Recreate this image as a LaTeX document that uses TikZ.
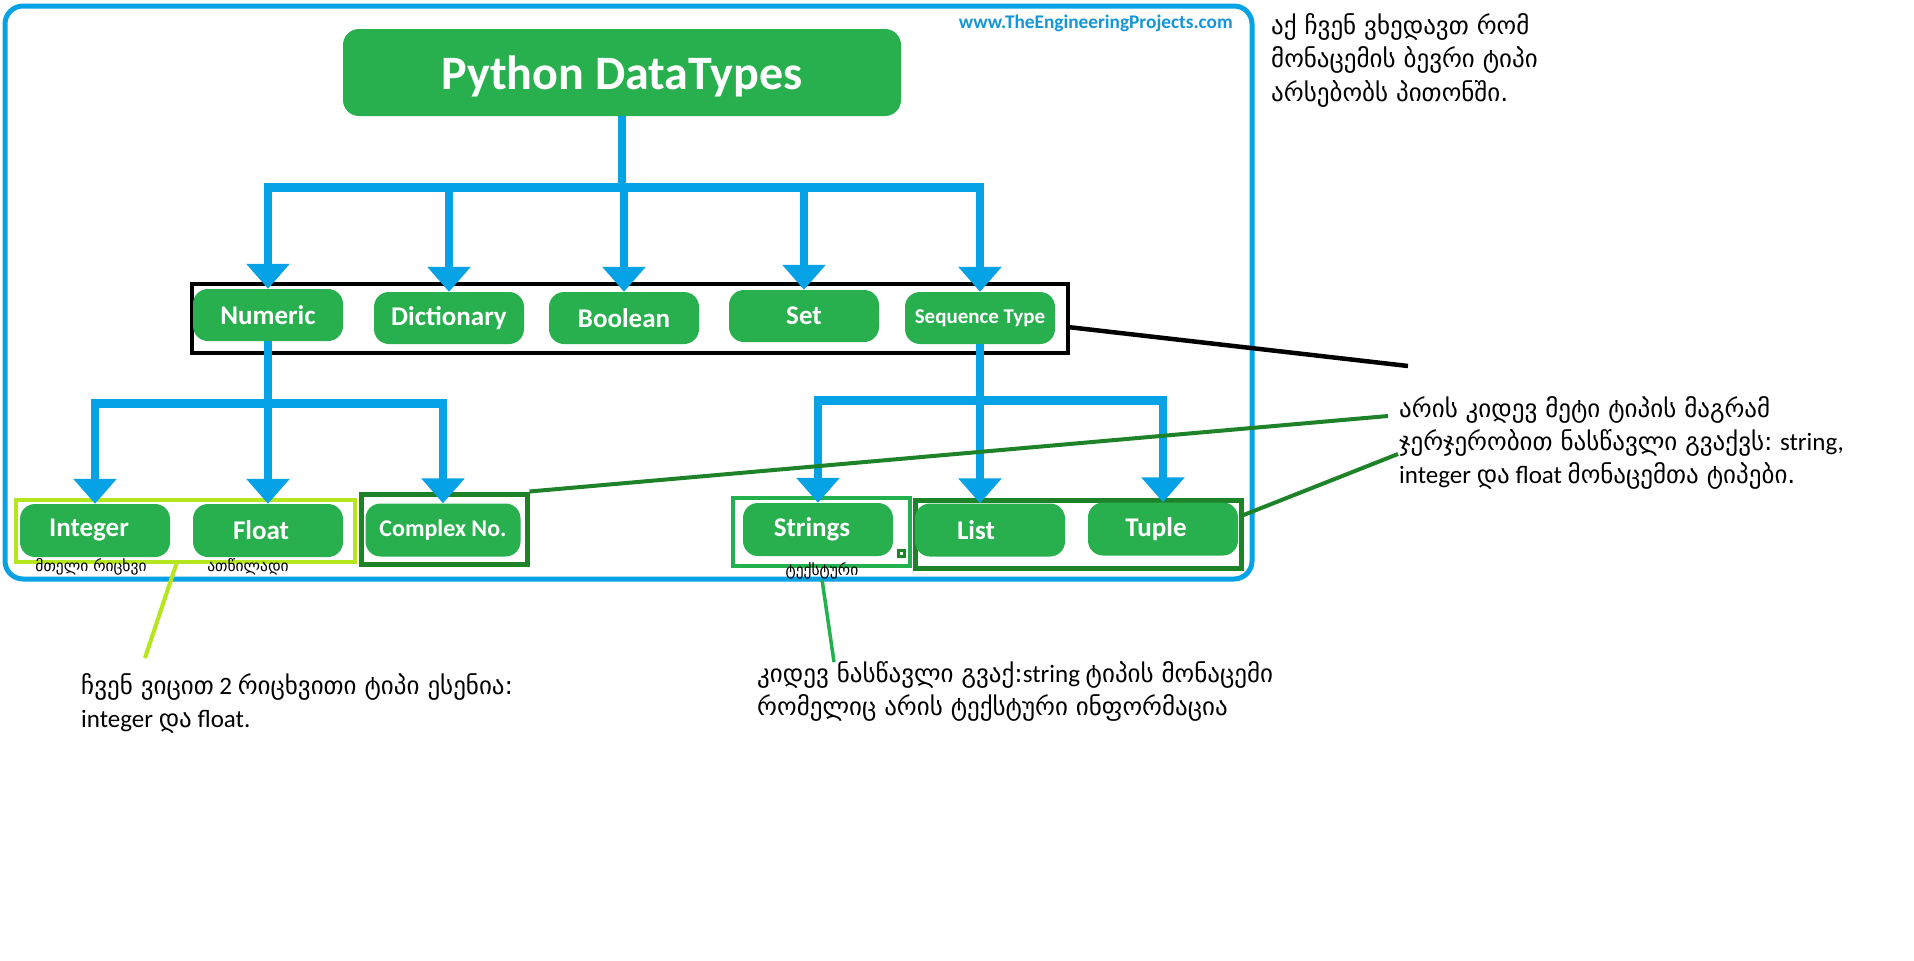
\documentclass[tikz,border=0pt]{standalone}
\usepackage{fontspec}
\setmainfont{Carlito}
\newfontfamily\ka{DejaVu Sans}
\usetikzlibrary{arrows.meta,calc}
\definecolor{ngreen}{RGB}{40,176,78}
\definecolor{tblue}{RGB}{6,162,230}
\definecolor{webblue}{RGB}{20,150,215}
\definecolor{limec}{RGB}{181,230,29}
\definecolor{greenc}{RGB}{34,177,76}
\definecolor{dkgreen}{RGB}{30,130,40}
\tikzset{
  dnode/.style={fill=ngreen, rounded corners=15pt, text=white, inner sep=0pt,
    font=\bfseries\fontsize{27pt}{30pt}\selectfont, minimum width=150pt, minimum height=52pt},
  grpbox/.style={inner sep=0pt, fill=none},
  hbar/.style={draw=tblue, line width=9pt},
  vline/.style={draw=tblue, line width=7.5pt},
  arr/.style={draw=tblue, line width=7.5pt, -{Triangle[width=42pt,length=25pt]}},
  note/.style={anchor=base west, inner sep=0pt, font=\fontsize{25pt}{33pt}\selectfont},
  capt/.style={inner sep=0pt, font=\ka\fontsize{15.5pt}{17pt}\selectfont},
  callout/.style={line width=4pt}
}
\begin{document}
\begin{tikzpicture}[x=1pt,y=-1pt]
\fill[white] (0,0) rectangle (1914,961);
\useasboundingbox (0,0) rectangle (1914,961);

% outer frame
\draw[tblue, line width=5pt, rounded corners=18pt] (5,6) rectangle (1252,579);

% website
\node[anchor=base east, inner sep=0pt, text=webblue, font=\bfseries\fontsize{19.3pt}{21pt}\selectfont] (web) at (1233,28) {www.TheEngineeringProjects.com};

% group boxes
\node[grpbox, draw=black, line width=4pt, minimum width=876pt, minimum height=69pt] (blk) at (630,318.5) {};
\node[grpbox, draw=limec, line width=4pt, minimum width=339pt, minimum height=62pt] (limebox) at (185.5,531) {};
\node[grpbox, draw=dkgreen, line width=5pt, minimum width=166pt, minimum height=70pt] (cbox) at (444,529) {};
\node[grpbox, draw=greenc, line width=4pt, minimum width=177pt, minimum height=68pt] (sbox) at (821.5,532) {};
\node[grpbox, draw=dkgreen, line width=5pt, minimum width=326pt, minimum height=68pt] (ltbox) at (1078,534) {};

% nodes
\node[dnode, minimum width=558pt, minimum height=87pt, rounded corners=16pt, text depth=0pt,
      font=\bfseries\fontsize{48pt}{52pt}\selectfont] (title) at (622,72.5) {Python DataTypes};
\node[dnode] (numeric) at (268,315) {Numeric};
\node[dnode] (dict) at (449,318) {Dictionary};
\node[dnode] (bool) at (624,318) {Boolean};
\node[dnode] (set) at (804,316) {Set};
\node[dnode, font=\bfseries\fontsize{21pt}{24pt}\selectfont] (seq) at (980,318) {Sequence Type};

\node[dnode, minimum height=53pt] (integer) at (95,530.5) {Integer\hspace*{12pt}};
\node[dnode, minimum height=53pt] (float) at (268,530.5) {Float\hspace*{14pt}};
\node[dnode, minimum height=53pt, minimum width=155pt, font=\bfseries\fontsize{24pt}{27pt}\selectfont] (complex) at (443,530) {Complex No.};
\node[dnode, minimum height=53pt] (strings) at (818,529.5) {Strings\hspace*{12pt}};
\node[dnode, minimum height=53pt] (list) at (990,530) {List\hspace*{28pt}};
\node[dnode, minimum height=53pt] (tuple) at (1163,529) {Tuple\hspace*{14pt}};

% small square
\fill[dkgreen] (897,549) rectangle (906,558);
\fill[white] (900,552) rectangle (903,555);

% captions
\node[capt] (capI) at (91,567) {მთელი რიცხვი};
\node[capt] (capF) at (248,567) {ათწილადი};
\node[capt] (capS) at (822,571) {ტექსტური};

% level 1 connectors
\coordinate (b1) at (622,187);
\draw[vline] (title.south) -- (b1);
\draw[hbar] ($(numeric.north |- b1)+(-3.75,0)$) -- ($(seq.north |- b1)+(3.75,0)$);
\foreach \n in {numeric,dict,bool,set,seq} \draw[arr] (\n.north |- b1) -- (\n.north);

% level 2 connectors (numeric)
\coordinate (b2) at (268,403);
\draw[vline] (numeric.south) -- (numeric.south |- b2);
\draw[hbar] ($(integer.north |- b2)+(-3.75,0)$) -- ($(complex.north |- b2)+(3.75,0)$);
\foreach \n in {integer,float,complex} \draw[arr] (\n.north |- b2) -- (\n.north);

% level 2 connectors (sequence)
\coordinate (b3) at (980,400);
\draw[vline] (seq.south) -- (seq.south |- b3);
\draw[hbar] ($(strings.north |- b3)+(-3.75,0)$) -- ($(tuple.north |- b3)+(3.75,0)$);
\draw[arr] (strings.north |- b3) -- (strings.north);
\draw[arr] (seq.south |- b3) -- (seq.south |- list.north);
\draw[arr] (tuple.north |- b3) -- (tuple.north);

% annotations
\node[note] (t1) at (1271,34) {\ka აქ ჩვენ ვხედავთ რომ};
\node[note] (t2) at (1271,67) {\ka მონაცემის ბევრი ტიპი};
\node[note] (t3) at (1271,101) {\ka არსებობს პითონში.};

\node[note] (r1) at (1399,417) {\ka არის კიდევ მეტი ტიპის მაგრამ};
\node[note] (r2) at (1399,450) {{\ka ჯერჯერობით ნასწავლი გვაქვს:} string,};
\node[note] (r3) at (1399,483) {integer {\ka და} float {\ka მონაცემთა ტიპები.}};

\node[note] (l1) at (81,694) {{\ka ჩვენ ვიცით} 2 {\ka რიცხვითი ტიპი ესენია:}};
\node[note] (l2) at (81,727) {integer {\ka და} float.};

\node[note] (m1) at (757,682) {{\ka კიდევ ნასწავლი გვაქ:}string {\ka ტიპის მონაცემი}};
\node[note] (m2) at (757,715) {\ka რომელიც არის ტექსტური ინფორმაცია};

% callout lines
\coordinate (blkEnd) at (1408,366);
\coordinate (cEnd) at (1388,416);
\coordinate (ltEnd) at (1398,454);
\coordinate (limeStart) at (177,562);
\coordinate (limeEnd) at (145,658);
\coordinate (sEnd) at (834,662);
\draw[callout, black, line width=4.5pt] ($(blk.north east)!0.62!(blk.south east)$) -- (blkEnd);
\draw[callout, dkgreen] (cbox.north east) -- (cEnd);
\draw[callout, dkgreen] ($(ltbox.north east)!0.24!(ltbox.south east)$) -- (ltEnd);
\draw[callout, limec] (limeStart) -- (limeEnd);
\draw[callout, greenc, line width=3.5pt] (capS.south) -- (sEnd);
\end{tikzpicture}
\end{document}
